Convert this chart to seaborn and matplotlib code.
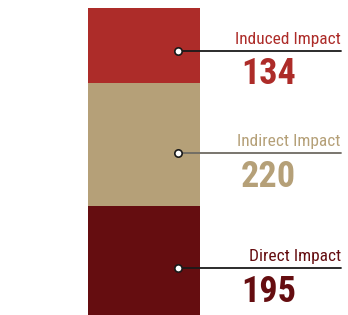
import matplotlib
matplotlib.use("Agg")

import matplotlib.pyplot as plt
import numpy as np
import pandas as pd
import seaborn as sns
from matplotlib import font_manager

# stack order: bottom to top
categories = ["Direct Impact", "Indirect Impact", "Induced Impact"]
values = [195, 220, 134]
bar_colors = ["#650D10", "#B5A078", "#AD2C29"]
line_colors = ["#1A1A1A", "#6E6A62", "#1A1A1A"]

sns.set_theme(style="white")

installed = {f.name for f in font_manager.fontManager.ttflist}
family = "DejaVu Sans"
stretch = "condensed"
for cand in ["Liberation Sans Narrow", "Roboto Condensed", "Open Sans Condensed"]:
    if cand in installed:
        family, stretch = cand, "normal"
        break
plt.rcParams["font.family"] = [family, "DejaVu Sans"]

df = pd.DataFrame({"category": categories, "value": values})
df["top"] = df["value"].cumsum()
df["bottom"] = df["top"] - df["value"]

fig = plt.figure(figsize=(3.48, 3.15), dpi=100)
ax = fig.add_axes([0, 0, 1, 1])

# draw cumulative bars tallest first so they read as a stack
for i in reversed(range(len(df))):
    sns.barplot(x=["stack"], y=[df["top"][i]], color=bar_colors[i],
                saturation=1, width=0.8, linewidth=0, edgecolor="none", ax=ax)

dot_x, line_end, num_x = 0.243, 1.407, 0.693
for i, row in df.iterrows():
    y = row["bottom"] + 0.43 * row["value"]
    ax.plot([dot_x, line_end], [y, y], color=line_colors[i], lw=1.3, zorder=3)
    ax.scatter([dot_x], [y], s=28, facecolor="white", edgecolor="#1A1A1A",
               linewidth=1.2, zorder=4)
    ax.annotate(row["category"], (line_end, y), xytext=(0, 5),
                textcoords="offset points", ha="right", va="baseline",
                fontsize=12.5, color=bar_colors[i], fontstretch=stretch)
    ax.annotate(f"{row['value']}", (num_x, y), xytext=(0, -4),
                textcoords="offset points", ha="left", va="top",
                fontsize=26, fontweight="bold", color=bar_colors[i],
                fontstretch=stretch)

ax.set_xlim(-1.0286, 1.457)
ax.set_ylim(0, 563)
ax.axis("off")

fig.savefig("out.png", dpi=100)
